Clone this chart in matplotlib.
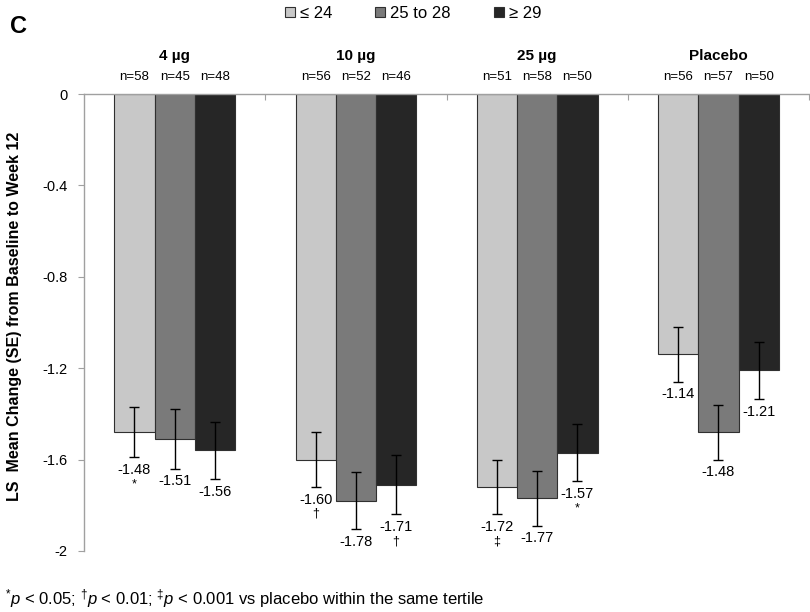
"""LS mean change from baseline to week 12 by tertile and dose (panel C)."""

import matplotlib

matplotlib.use("Agg")

import matplotlib.pyplot as plt
import numpy as np
from matplotlib.patches import Patch

plt.rcParams["font.family"] = ["Liberation Sans", "DejaVu Sans"]
plt.rcParams["mathtext.fontset"] = "custom"
plt.rcParams["mathtext.rm"] = "Liberation Sans"
plt.rcParams["mathtext.it"] = "Liberation Sans:italic"

groups = ["4 µg", "10 µg", "25 µg", "Placebo"]
tertiles = ["≤ 24", "25 to 28", "≥ 29"]
colors = ["#c8c8c8", "#7a7a7a", "#262626"]

ls_le24 = [-1.48, -1.60, -1.72, -1.14]
ls_25_28 = [-1.51, -1.78, -1.77, -1.48]
ls_ge29 = [-1.56, -1.71, -1.57, -1.21]

se_le24 = [0.11, 0.12, 0.12, 0.12]
se_25_28 = [0.13, 0.125, 0.12, 0.12]
se_ge29 = [0.125, 0.13, 0.125, 0.125]

n_le24 = [58, 56, 51, 56]
n_25_28 = [45, 52, 58, 57]
n_ge29 = [48, 46, 50, 50]

sig_le24 = ["*", "†", "‡", ""]
sig_25_28 = ["", "", "", ""]
sig_ge29 = ["", "†", "*", ""]

yticks = [0, -0.4, -0.8, -1.2, -1.6, -2]

series = [
    (ls_le24, se_le24, n_le24, sig_le24),
    (ls_25_28, se_25_28, n_25_28, sig_25_28),
    (ls_ge29, se_ge29, n_ge29, sig_ge29),
]

fig = plt.figure(figsize=(8.1, 6.12), dpi=100)
ax = fig.add_axes([0.1037, 0.0997, 0.8951, 0.7467])

x = np.arange(len(groups))
width = 0.222
for j, (means, ses, ns, sigs) in enumerate(series):
    xs = x + (j - 1) * width
    ax.bar(xs, means, width, color=colors[j], edgecolor="#303030", linewidth=0.8,
           zorder=2)
    ax.errorbar(xs, means, yerr=ses, fmt="none", ecolor="black", elinewidth=1.0,
                capsize=3.5, capthick=1.0, zorder=3)
    for xi, m, s, n, sg in zip(xs, means, ses, ns, sigs):
        ax.annotate(f"{m:.2f}", (xi, m - s), xytext=(0, -4), textcoords="offset points",
                    ha="center", va="top", fontsize=10.5)
        if sg:
            ax.annotate(sg, (xi, m - s), xytext=(0, -15), textcoords="offset points",
                        ha="center", va="top", fontsize=9)
        ax.annotate(f"n={n}", (xi, 0), xytext=(0, 8), textcoords="offset points",
                    ha="center", va="bottom", fontsize=9.5)

for i, g in enumerate(groups):
    ax.annotate(g, (i, 0), xytext=(0, 22), textcoords="offset points",
                ha="center", va="bottom", fontsize=11, fontweight="bold")

ax.set_xlim(-0.5, 3.5)
ax.set_ylim(-2, 0)
ax.set_yticks(yticks)
ax.set_yticklabels([f"{v:g}" for v in yticks], fontsize=10.5)
ax.set_xticks(np.arange(0.5, 4.0, 1.0))
ax.tick_params(axis="x", top=True, bottom=False, labelbottom=False, direction="in",
               length=4, color="#a0a0a0")
ax.tick_params(axis="y", length=4, color="#a0a0a0", pad=8)

for side in ["bottom", "right"]:
    ax.spines[side].set_visible(False)
for side in ["top", "left"]:
    ax.spines[side].set_color("#a0a0a0")
    ax.spines[side].set_linewidth(1.0)

ax.set_ylabel("LS  Mean Change (SE) from Baseline to Week 12", fontsize=11.5,
              fontweight="bold")
ax.yaxis.set_label_coords(-0.085, 0.514)

handles = [Patch(facecolor=c, edgecolor="#303030", linewidth=0.8) for c in colors]
fig.legend(handles, tertiles, loc="upper center", bbox_to_anchor=(0.51, 1.015), ncol=3,
           frameon=False, fontsize=12, handlelength=0.6, handleheight=0.6,
           handletextpad=0.3, columnspacing=2.6)

fig.text(0.012, 0.975, "C", fontsize=17, fontweight="bold", va="top")
fig.text(0.006, 0.004,
         r"$^{*}\mathit{p}$ < 0.05; $^{\dagger}\mathit{p}$ < 0.01; "
         r"$^{\ddagger}\mathit{p}$ < 0.001 vs placebo within the same tertile",
         fontsize=12, va="bottom")

fig.savefig("out.png", dpi=100)
plt.close(fig)
